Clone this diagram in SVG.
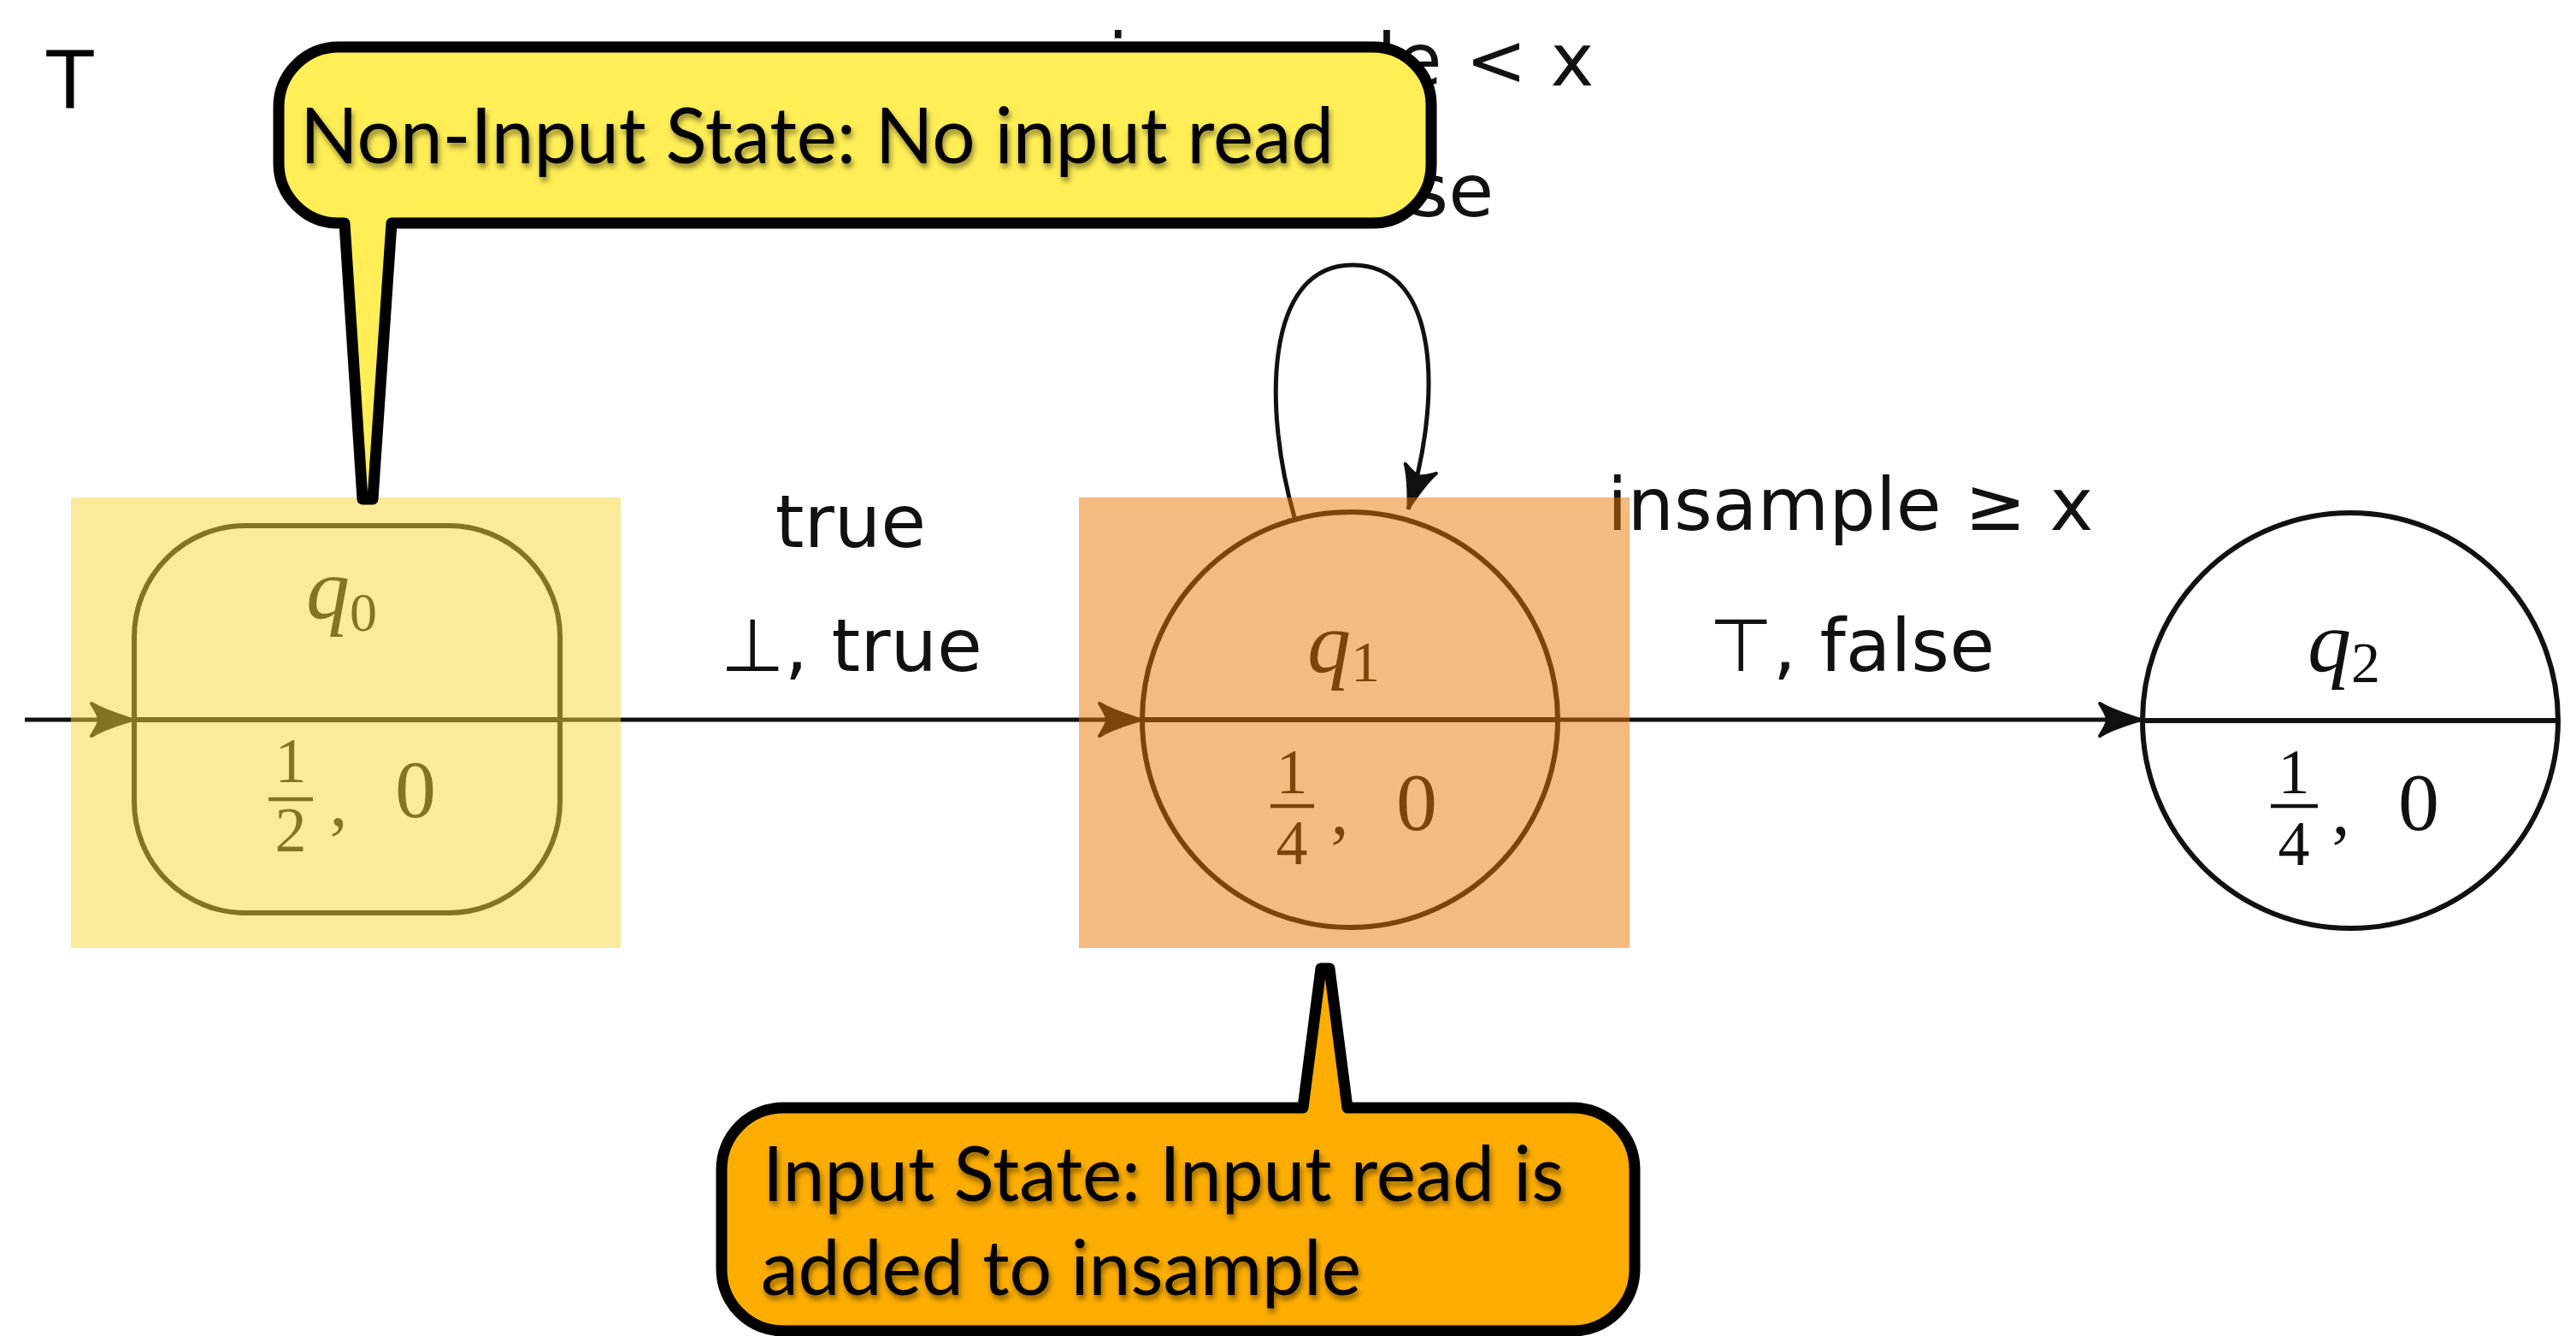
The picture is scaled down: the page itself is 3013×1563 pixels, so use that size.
<svg xmlns="http://www.w3.org/2000/svg" width="3013" height="1563" viewBox="0 0 3013 1563">
  <style>
    .lbl { font-family: "DejaVu Sans", "Liberation Sans", sans-serif; font-size: 86px; fill: #111; text-anchor: middle; }
    .math { font-family: "Liberation Serif", "DejaVu Serif", serif; fill: #111; }
    .node { fill: none; stroke: #111; stroke-width: 6; }
    .edge { fill: none; stroke: #111; stroke-width: 5; }
    .callout { stroke: #000; stroke-width: 13; stroke-linejoin: round; }
    .ctext { font-family: "Lato", "Open Sans", sans-serif; fill: #000; filter: url(#shadow); }
  </style>
  <defs>
    <marker id="arr" viewBox="-60 -30 66 60" refX="0" refY="0" markerWidth="66" markerHeight="60" markerUnits="userSpaceOnUse" orient="auto">
      <path d="M-2,0 C-14,-4 -34,-9 -50,-19 C-43,-8 -41,-4 -41,0 C-41,4 -43,8 -50,19 C-34,9 -14,4 -2,0 Z" fill="#111" stroke="#111" stroke-width="4" stroke-linejoin="round"/>
    </marker>
    <filter id="shadow" x="-5%" y="-20%" width="110%" height="150%">
      <feDropShadow dx="2" dy="5" stdDeviation="3" flood-color="#000" flood-opacity="0.45"/>
    </filter>
  </defs>

  <rect x="0" y="0" width="3013" height="1563" fill="#fff"/>

  <!-- corner mark -->
  <text x="52" y="126" font-family="Liberation Sans, sans-serif" font-size="98" fill="#000">T</text>

  <!-- connectors -->
  <g id="connectors">
    <path class="edge" d="M29,842 H157" marker-end="url(#arr)"/>
    <path class="edge" d="M655,842 H1336" marker-end="url(#arr)"/>
    <path class="edge" d="M1822,842 H2506" marker-end="url(#arr)"/>
    <path class="edge" d="M1514,605 C1478,480 1478,310 1582,310 C1686,310 1686,470 1647,596" marker-end="url(#arr)"/>
    <!-- transition labels -->
    <text class="lbl" x="995" y="640">true</text>
    <text class="lbl" x="996" y="785">⊥, true</text>
    <text class="lbl" x="2164" y="620">insample ≥ x</text>
    <text class="lbl" x="2166" y="785">⊤, false</text>
    <text class="lbl" x="1580" y="100">insample &lt; x</text>
    <text class="lbl" x="1580" y="253">⊥, false</text>
  </g>

  <!-- state q0 -->
  <g id="q0">
    <rect class="node" x="157" y="615" width="498" height="453" rx="130" ry="130"/>
    <line class="node" x1="157" y1="842" x2="655" y2="842"/>
    <text class="math" x="358" y="723" font-size="102"><tspan font-style="italic">q</tspan><tspan font-size="64" dy="15">0</tspan></text>
    <text class="math" x="340" y="915" font-size="74" text-anchor="middle">1</text>
    <line x1="314" y1="935" x2="366" y2="935" stroke="#111" stroke-width="4.5"/>
    <text class="math" x="340" y="996" font-size="74" text-anchor="middle">2</text>
    <text class="math" x="396" y="966" font-size="84" text-anchor="middle">,</text>
    <text class="math" x="486" y="956" font-size="96" text-anchor="middle">0</text>
  </g>

  <!-- state q1 -->
  <g id="q1">
    <circle class="node" cx="1579" cy="842" r="243"/>
    <line class="node" x1="1336" y1="842" x2="1822" y2="842"/>
    <text class="math" x="1529" y="786" font-size="102"><tspan font-style="italic">q</tspan><tspan font-size="68" dy="11">1</tspan></text>
    <text class="math" x="1511" y="928" font-size="74" text-anchor="middle">1</text>
    <line x1="1486" y1="943" x2="1537" y2="943" stroke="#111" stroke-width="4.5"/>
    <text class="math" x="1511" y="1011" font-size="74" text-anchor="middle">4</text>
    <text class="math" x="1567" y="976" font-size="84" text-anchor="middle">,</text>
    <text class="math" x="1657" y="971" font-size="96" text-anchor="middle">0</text>
  </g>

  <!-- state q2 -->
  <g id="q2">
    <circle class="node" cx="2749" cy="843" r="243"/>
    <line class="node" x1="2506" y1="843" x2="2992" y2="843"/>
    <text class="math" x="2699" y="785" font-size="102"><tspan font-style="italic">q</tspan><tspan font-size="68" dy="13">2</tspan></text>
    <text class="math" x="2683" y="928" font-size="74" text-anchor="middle">1</text>
    <line x1="2656" y1="943" x2="2711" y2="943" stroke="#111" stroke-width="4.5"/>
    <text class="math" x="2683" y="1012" font-size="74" text-anchor="middle">4</text>
    <text class="math" x="2738" y="976" font-size="84" text-anchor="middle">,</text>
    <text class="math" x="2829" y="971" font-size="96" text-anchor="middle">0</text>
  </g>

  <!-- translucent highlights over the two states -->
  <g id="highlight-q0">
    <rect x="83" y="582" width="643" height="527" fill="rgb(250,214,56)" fill-opacity="0.5"/>
  </g>
  <g id="highlight-q1">
    <rect x="1262" y="582" width="644" height="527" fill="rgb(236,118,0)" fill-opacity="0.5"/>
  </g>

  <!-- callout: non-input state -->
  <g id="callout-noninput">
    <path class="callout" fill="#FFEE55" d="M396,55 L1606,55 A68,68 0 0 1 1674,123 L1674,193 A68,68 0 0 1 1606,261 L458,261 L436,584 L424,584 L403,261 L396,261 A70,70 0 0 1 326,191 L326,125 A70,70 0 0 1 396,55 Z"/>
    <text class="ctext" x="351" y="191" font-size="92" textLength="1209" lengthAdjust="spacingAndGlyphs">Non-Input State: No input read</text>
  </g>

  <!-- callout: input state -->
  <g id="callout-input">
    <path class="callout" fill="#FDAD00" d="M916,1296 L1524,1296 L1545,1133 L1555,1133 L1576,1296 L1840,1296 A72,72 0 0 1 1912,1368 L1912,1485 A72,72 0 0 1 1840,1557 L916,1557 A72,72 0 0 1 844,1485 L844,1368 A72,72 0 0 1 916,1296 Z"/>
    <text class="ctext" x="892" y="1405" font-size="89" textLength="937" lengthAdjust="spacingAndGlyphs">Input State: Input read is</text>
    <text class="ctext" x="890" y="1515" font-size="89" textLength="702" lengthAdjust="spacingAndGlyphs">added to insample</text>
  </g>
</svg>
